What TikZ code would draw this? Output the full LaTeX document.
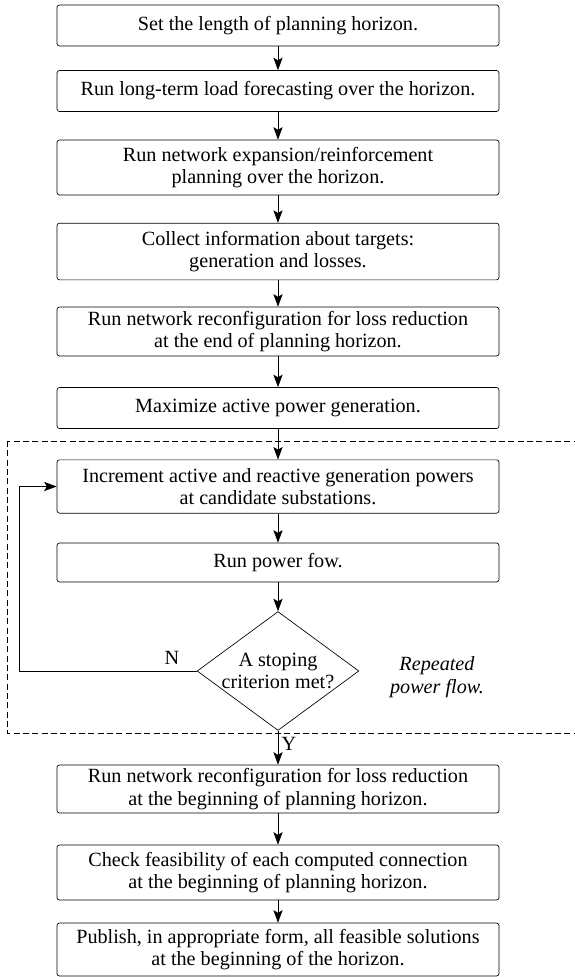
\documentclass[tikz,border=0pt]{standalone}
\usepackage{fontspec}
\setmainfont{Liberation Serif}
\usetikzlibrary{shapes.geometric,arrows.meta}
\begin{document}
\begin{tikzpicture}[x=0.6pt,y=-0.6pt, every node/.style={font=\fontsize{12.1}{13.5}\selectfont},
  stepbox/.style={draw,rounded corners=1.5pt,minimum width=265.2pt,minimum height=24.6pt,align=center,inner sep=0pt},
  twobox/.style={stepbox,minimum height=32pt},
  test/.style={draw,diamond,aspect=1.36,inner sep=0pt,align=center},
  arr/.style={-{Stealth[length=7.5pt,width=5.5pt,inset=1.6pt]}}]
\useasboundingbox (0,0) rectangle (574,977);
% repeated power flow region
\draw[dash pattern=on 3.6pt off 2pt] (7,441) rectangle (580,733);
\node[stepbox] (horizon) at (278,25.5) {Set the length of planning horizon.};
\node[stepbox] (forecast) at (278,91) {Run long-term load forecasting over the horizon.};
\node[twobox,minimum height=33pt] (expand) at (278,167.5) {Run network expansion/reinforcement\\planning over the horizon.};
\node[twobox,minimum height=34pt] (targets) at (278,251.5) {Collect information about targets:\\generation and losses.};
\node[twobox,minimum height=29.4pt] (reconfend) at (278,331.5) {Run network reconfiguration for loss reduction\\at the end of planning horizon.};
\node[stepbox] (maxgen) at (278,408) {Maximize active power generation.};
\node[twobox] (incr) at (278,486.5) {Increment active and reactive generation powers\\at candidate substations.};
\node[stepbox,minimum height=23.4pt] (pflow) at (278,562.5) {Run power fow.};
\node[test] (crit) at (278,671) {A stoping\\criterion met?};
\node[font=\fontsize{12.1}{13.5}\selectfont\itshape,align=center] (note) at (437,677) {Repeated\\power flow.};
\node[twobox,minimum height=28.8pt] (reconfbeg) at (278,789) {Run network reconfiguration for loss reduction\\at the beginning of planning horizon.};
\node[twobox,minimum height=33pt] (check) at (278,872.5) {Check feasibility of each computed connection\\at the beginning of planning horizon.};
\node[twobox,minimum height=31.8pt] (publish) at (278,949.5) {Publish, in appropriate form, all feasible solutions\\at the beginning of the horizon.};
\coordinate (loopcorner) at (19,671);
% connectors
\draw[arr] (horizon) -- (forecast);
\draw[arr] (forecast) -- (expand);
\draw[arr] (expand) -- (targets);
\draw[arr] (targets) -- (reconfend);
\draw[arr] (reconfend) -- (maxgen);
\draw[arr] (maxgen) -- (incr);
\draw[arr] (incr) -- (pflow);
\draw[arr] (pflow) -- (crit);
\draw[arr] (crit.west) -- node[pos=0.14,above,inner sep=4pt]{N} (loopcorner) |- (incr.west);
\draw[arr] (crit.south) -- node[pos=0.4,right,inner sep=2pt]{Y} (reconfbeg);
\draw[arr] (reconfbeg) -- (check);
\draw[arr] (check) -- (publish);
\end{tikzpicture}
\end{document}
